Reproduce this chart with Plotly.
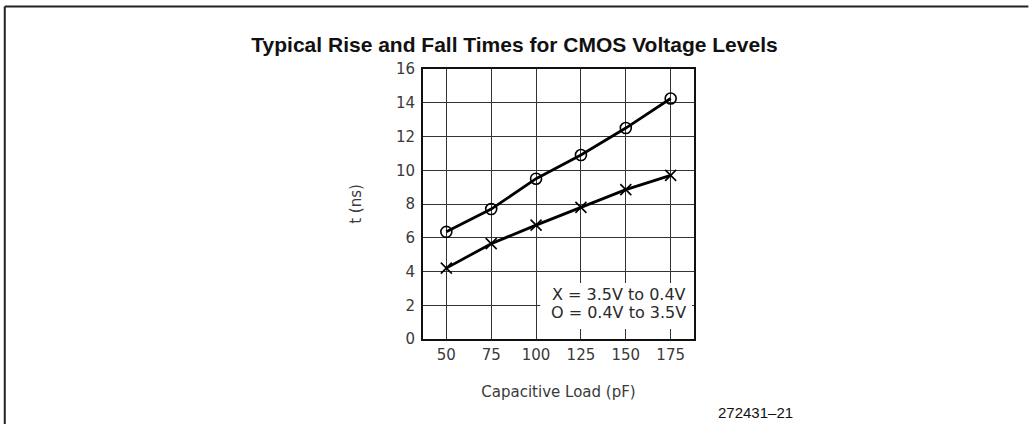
import plotly.graph_objects as go

# Data
loads_pf = [50, 75, 100, 125, 150, 175]
t_rise_o = [6.35, 7.7, 9.5, 10.9, 12.5, 14.25]   # O = 0.4V to 3.5V
t_fall_x = [4.2, 5.65, 6.75, 7.8, 8.85, 9.7]     # X = 3.5V to 0.4V
x_ticks = [50, 75, 100, 125, 150, 175]
y_ticks = [0, 2, 4, 6, 8, 10, 12, 14, 16]

W, H = 1029, 424
L, R, T, B = 422.5, 694, 69, 339
pw, ph = R - L, B - T

def px(xp):
    return (xp - L) / pw

def py(yp):
    return (B - yp) / ph

tick_font = dict(family="DejaVu Sans", size=15, color="#3a3a3a")

fig = go.Figure()
fig.add_trace(go.Scatter(
    x=loads_pf, y=t_rise_o, mode="lines+markers",
    line=dict(color="black", width=2.8),
    marker=dict(symbol="circle-open", size=11, color="black", line=dict(width=1.6)),
    showlegend=False))
fig.add_trace(go.Scatter(
    x=loads_pf, y=t_fall_x, mode="lines+markers",
    line=dict(color="black", width=2.8),
    marker=dict(symbol="x-thin-open", size=11, color="black", line=dict(width=1.6)),
    showlegend=False))

fig.update_layout(
    width=W, height=H,
    margin=dict(l=L, r=W - R, t=T, b=H - B, autoexpand=False),
    paper_bgcolor="white", plot_bgcolor="white",
    title=dict(text="<b>Typical Rise and Fall Times for CMOS Voltage Levels</b>",
               x=0.5, xanchor="center", y=1 - 45 / H, yanchor="middle",
               font=dict(family="Liberation Sans Narrow, Arial Narrow, Arial", size=21, color="#111")),
    xaxis=dict(range=[37, 188], tickvals=x_ticks, ticks="", showgrid=True,
               gridcolor="#333", gridwidth=1, zeroline=False,
               showline=True, linecolor="#111", linewidth=2, mirror=True,
               tickfont=tick_font, ticklabelstandoff=1,
               title=dict(text="Capacitive Load (pF)",
                          font=dict(family="DejaVu Sans", size=15, color="#3a3a3a"),
                          standoff=23)),
    yaxis=dict(range=[0, 16], tickvals=y_ticks, ticks="", showgrid=True,
               gridcolor="#333", gridwidth=1, zeroline=False,
               showline=True, linecolor="#111", linewidth=2, mirror=True,
               tickfont=tick_font, ticklabelstandoff=3,
               title=dict(text="t (ns)",
                          font=dict(family="DejaVu Sans", size=15, color="#3a3a3a"),
                          standoff=31)),
)

# Legend box (text over white background)
fig.add_shape(type="rect", xref="paper", yref="paper",
              x0=px(540), x1=px(692), y0=py(329), y1=py(283),
              fillcolor="white", line=dict(width=0), layer="above")
fig.add_annotation(xref="paper", yref="paper", x=px(688), y=py(294),
                   xanchor="right", yanchor="middle", showarrow=False,
                   text="X = 3.5V to 0.4V",
                   font=dict(family="DejaVu Sans", size=16, color="#2a2a2a"))
fig.add_annotation(xref="paper", yref="paper", x=px(688), y=py(312),
                   xanchor="right", yanchor="middle", showarrow=False,
                   text="O = 0.4V to 3.5V",
                   font=dict(family="DejaVu Sans", size=16, color="#2a2a2a"))

# Figure number
fig.add_annotation(xref="paper", yref="paper", x=px(756), y=py(412),
                   xanchor="center", yanchor="middle", showarrow=False,
                   text="272431–21",
                   font=dict(family="Liberation Sans Narrow, Arial Narrow, Arial", size=15, color="#111"))

# Outer page border (top and left)
fig.add_shape(type="line", xref="paper", yref="paper",
              x0=px(3.5), x1=px(1029), y0=py(6.5), y1=py(6.5),
              line=dict(color="#222", width=2))
fig.add_shape(type="line", xref="paper", yref="paper",
              x0=px(3.5), x1=px(3.5), y0=py(6.5), y1=py(424),
              line=dict(color="#222", width=2))

fig.write_html("out.html", config={"displayModeBar": False},
               post_script="document.body.style.margin='0';document.body.style.overflow='hidden';")
